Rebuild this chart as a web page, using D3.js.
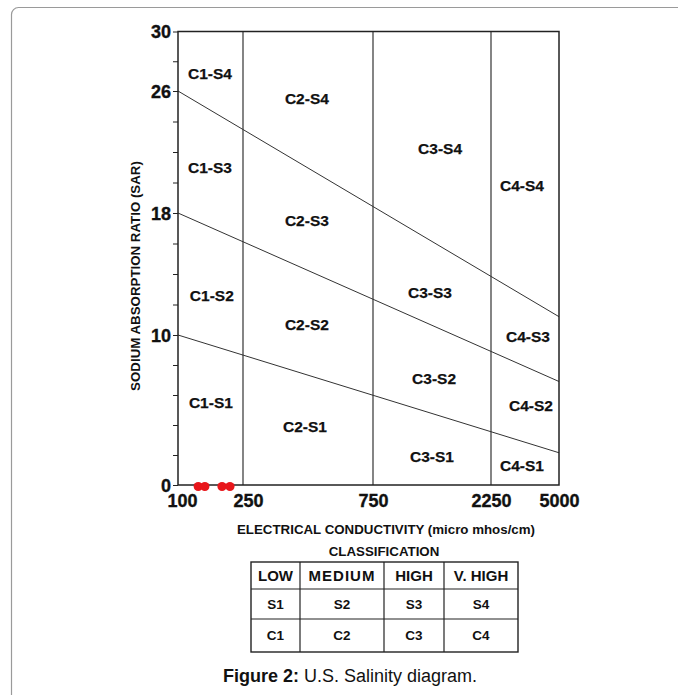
<!DOCTYPE html>
<html lang="en">
<head>
<meta charset="utf-8">
<title>U.S. Salinity diagram</title>
<script src="https://d3js.org/d3.v7.min.js"></script>
<style type="text/css">
    body { margin: 0; background: #fff; }
    svg { display: block; font-family: "Liberation Sans", Arial, sans-serif; }
    text.zone { font-size: 15.5px; font-weight: bold; fill: #111; stroke: #111; stroke-width: 0.25px;
                text-anchor: middle; dominant-baseline: central; }
    .axis text { font-size: 18px; font-weight: bold; fill: #111; stroke: #111; stroke-width: 0.35px; }
    .axis path, .axis line { stroke: #222; }
    text.title { font-size: 13.3px; font-weight: bold; fill: #111; text-anchor: middle; }
    text.cell { font-weight: bold; fill: #111; text-anchor: middle; }
</style>
</head>
<body>
<script>

// chart values
let ecTicks = [100, 250, 750, 2250, 5000];       // micro mhos/cm
let sarTicks = [0, 10, 18, 26, 30];
let ecRange = [100, 5000];

// SAR of each S boundary line at EC = 100 and at EC = 5000
let boundaryStart = [10, 18, 26];
let boundaryEnd = [2.15, 6.9, 11.2];

// zone labels: name, EC, SAR
let zoneNames = ["C1-S4", "C1-S3", "C1-S2", "C1-S1",
                 "C2-S4", "C2-S3", "C2-S2", "C2-S1",
                 "C3-S4", "C3-S3", "C3-S2", "C3-S1",
                 "C4-S4", "C4-S3", "C4-S2", "C4-S1"];
let zoneEC = [157, 157, 161, 159,
              429, 429, 429, 422,
              1400, 1275, 1324, 1299,
              3238, 3474, 3600, 3238];
let zoneSAR = [27.2, 21.0, 12.6, 5.5,
               25.5, 17.5, 10.7, 3.9,
               22.2, 12.8, 7.1, 1.9,
               19.8, 9.9, 5.3, 1.3];

// samples (red dots)
let sampleEC = [133, 146, 186, 208];
let sampleSAR = [0, 0, 0, 0];

// classification table
let classHeader = ["LOW", "MEDIUM", "HIGH", "V. HIGH"];
let classS = ["S1", "S2", "S3", "S4"];
let classC = ["C1", "C2", "C3", "C4"];

let W = 678, H = 695;

let svg = d3.select("body")
    .append("svg")
    .attr("width", W)
    .attr("height", H);

// page frame
svg.append("rect")
    .attr("x", 11.5).attr("y", 7.5)
    .attr("width", W + 20).attr("height", H + 20)
    .attr("rx", 7)
    .attr("fill", "#fff")
    .attr("stroke", "#9a9a9a")
    .attr("stroke-width", 1.2);

// scales: the diagram axes are not uniform, so use polylinear scales
let x = d3.scaleLog()
    .domain(ecTicks)
    .range([178, 243, 373, 491, 559]);

let y = d3.scaleLinear()
    .domain(sarTicks)
    .range([485, 335, 213, 91, 31.5]);

let plot = svg.append("g");

// vertical class lines
plot.selectAll("line.vline")
    .data(ecTicks.slice(1, -1))
    .enter()
    .append("line")
    .attr("class", "vline")
    .attr("x1", d => x(d)).attr("x2", d => x(d))
    .attr("y1", y(30)).attr("y2", y(0))
    .attr("stroke", "#333")
    .attr("stroke-width", 1.2);

// S boundary lines
let line = d3.line().x(d => x(d[0])).y(d => y(d[1]));
plot.selectAll("path.bound")
    .data(boundaryStart.map((s, i) => [[ecRange[0], s], [ecRange[1], boundaryEnd[i]]]))
    .enter()
    .append("path")
    .attr("class", "bound")
    .attr("d", line)
    .attr("fill", "none")
    .attr("stroke", "#333")
    .attr("stroke-width", 1);

// plot border
plot.append("rect")
    .attr("x", x(100)).attr("y", y(30))
    .attr("width", x(5000) - x(100))
    .attr("height", y(0) - y(30))
    .attr("fill", "none")
    .attr("stroke", "#222")
    .attr("stroke-width", 1.5);

// zone labels
plot.selectAll("text.zone")
    .data(zoneNames)
    .enter()
    .append("text")
    .attr("class", "zone")
    .attr("x", (d, i) => x(zoneEC[i]))
    .attr("y", (d, i) => y(zoneSAR[i]))
    .text(d => d);

// y axis, minor tick every 2
let yAxis = d3.axisLeft(y)
    .tickValues(d3.range(0, 31, 2))
    .tickSize(5)
    .tickPadding(2)
    .tickFormat(d => sarTicks.includes(d) ? d : "");

let gy = svg.append("g")
    .attr("class", "axis")
    .attr("transform", "translate(" + x(100) + ",0)")
    .call(yAxis);
gy.select(".domain").remove();
gy.selectAll("text").attr("dy", "0.36em");

// x axis labels
let xAxis = d3.axisBottom(x)
    .tickValues(ecTicks)
    .tickSize(0)
    .tickPadding(9)
    .tickFormat(d => d);

let gx = svg.append("g")
    .attr("class", "axis")
    .attr("transform", "translate(0," + y(0) + ")")
    .call(xAxis);
gx.select(".domain").remove();
gx.selectAll("text").attr("dx", (d, i) => i === 0 ? 4 : (i === 1 ? 5 : 0));

// red samples
plot.selectAll("circle")
    .data(sampleEC)
    .enter()
    .append("circle")
    .attr("cx", d => x(d))
    .attr("cy", (d, i) => y(sampleSAR[i]) + 1.5)
    .attr("r", 4.6)
    .attr("fill", "#e8161b");

// axis titles
svg.append("text")
    .attr("class", "title")
    .attr("transform", "translate(140," + 276 + ") rotate(-90)")
    .text("SODIUM ABSORPTION RATIO (SAR)");

svg.append("text")
    .attr("class", "title")
    .attr("x", 386).attr("y", 534)
    .text("ELECTRICAL CONDUCTIVITY (micro mhos/cm)");

svg.append("text")
    .attr("class", "title")
    .attr("x", 384).attr("y", 556)
    .text("CLASSIFICATION");

// classification table
let colEdges = [251, 300, 384, 444, 518];
let rowEdges = [562, 589, 619, 652];
let tbl = svg.append("g");

tbl.append("rect")
    .attr("x", colEdges[0]).attr("y", rowEdges[0])
    .attr("width", colEdges[4] - colEdges[0])
    .attr("height", rowEdges[3] - rowEdges[0])
    .attr("fill", "none")
    .attr("stroke", "#222")
    .attr("stroke-width", 1.4);

tbl.selectAll("line.col")
    .data(colEdges.slice(1, -1))
    .enter()
    .append("line")
    .attr("x1", d => d).attr("x2", d => d)
    .attr("y1", rowEdges[0]).attr("y2", rowEdges[3])
    .attr("stroke", "#222").attr("stroke-width", 1.2);

tbl.selectAll("line.row")
    .data(rowEdges.slice(1, -1))
    .enter()
    .append("line")
    .attr("x1", colEdges[0]).attr("x2", colEdges[4])
    .attr("y1", d => d).attr("y2", d => d)
    .attr("stroke", "#222").attr("stroke-width", 1.2);

[classHeader, classS, classC].forEach((row, r) => {
    tbl.selectAll("text.r" + r)
        .data(row)
        .enter()
        .append("text")
        .attr("class", "cell r" + r)
        .attr("x", (d, i) => (colEdges[i] + colEdges[i + 1]) / 2)
        .attr("y", (rowEdges[r] + rowEdges[r + 1]) / 2)
        .attr("dy", "0.36em")
        .style("font-size", r === 0 ? "15px" : "13.5px")
        .style("letter-spacing", (d) => d === "MEDIUM" ? "1px" : "0px")
        .text(d => d);
});

// caption
let cap = svg.append("text")
    .attr("x", 350).attr("y", 682)
    .attr("text-anchor", "middle")
    .style("font-size", "18px")
    .attr("fill", "#111");
cap.append("tspan").style("font-weight", "bold").text("Figure 2:");
cap.append("tspan").text(" U.S. Salinity diagram.");

</script>
</body>
</html>
